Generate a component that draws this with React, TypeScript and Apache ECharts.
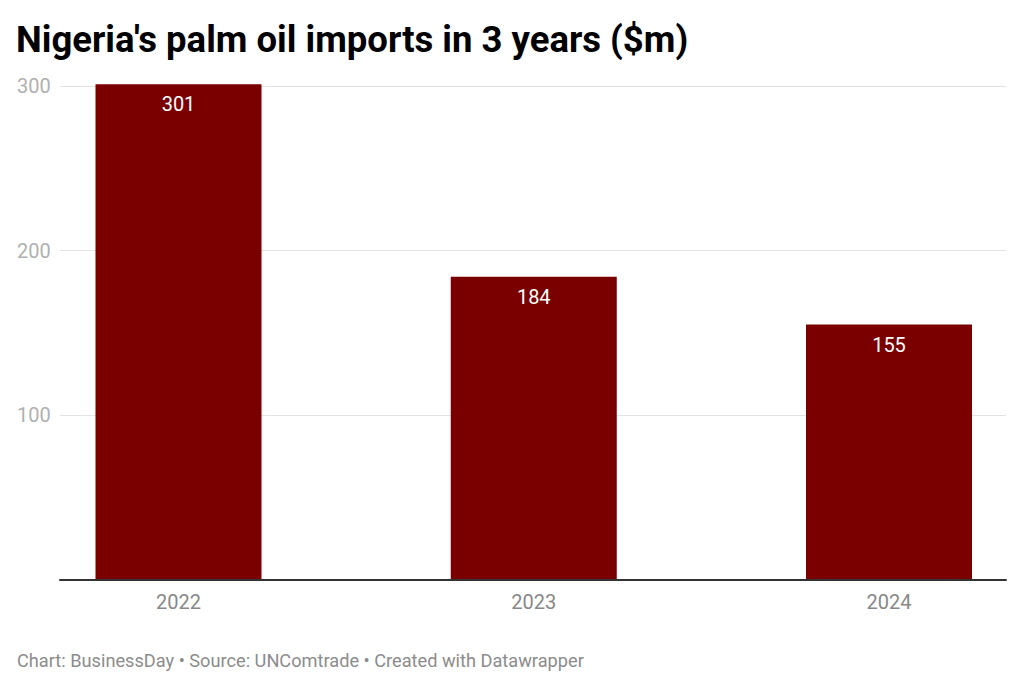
import React, { useEffect, useRef } from "react";
import * as echarts from "echarts";

const years = ["2022", "2023", "2024"];
const imports = [301, 184, 155];
const yTicks = [0, 100, 200, 300];

const TITLE = "Nigeria's palm oil imports in 3 years ($m)";
const FOOTER = "Chart: BusinessDay • Source: UNComtrade • Created with Datawrapper";

export default function App() {
  const ref = useRef<HTMLDivElement>(null);

  useEffect(() => {
    if (!ref.current) return;
    const chart = echarts.init(ref.current, undefined, { renderer: "svg" });
    const font = "Roboto, 'Noto Sans', sans-serif";
    const top = 86;
    const bottom = 689 - 579.5;
    const yMax = yTicks[yTicks.length - 1];

    chart.setOption({
      animation: false,
      backgroundColor: "#ffffff",
      textStyle: { fontFamily: font },
      title: {
        text: TITLE,
        left: 16,
        top: 21,
        padding: 0,
        textStyle: { fontFamily: font, fontSize: 36.5, fontWeight: 700, color: "#000000" },
      },
      graphic: [
        {
          type: "text",
          left: 17,
          top: 651,
          style: { text: FOOTER, fontFamily: font, fontSize: 18.2, fill: "#8c8c8c" },
        },
      ],
      grid: [
        { left: 60, right: 18, top, bottom },
        { left: 178.5, right: 135, top, bottom },
      ],
      xAxis: [
        {
          gridIndex: 0,
          type: "value",
          min: 0,
          max: 1,
          axisLine: { show: true, onZero: false, lineStyle: { color: "#333333", width: 2 } },
          axisTick: { show: false },
          axisLabel: { show: false },
          splitLine: { show: false },
          z: 10,
        },
        {
          gridIndex: 1,
          type: "category",
          data: years,
          boundaryGap: false,
          axisLine: { show: false },
          axisTick: { show: false },
          axisLabel: { color: "#888888", fontSize: 20, margin: 12, fontFamily: font },
          splitLine: { show: false },
        },
      ],
      yAxis: [
        {
          gridIndex: 0,
          type: "value",
          min: 0,
          max: yMax,
          interval: 100,
          axisLine: { show: false },
          axisTick: { show: false },
          axisLabel: {
            color: "#b0b0b0",
            fontSize: 20,
            fontFamily: font,
            align: "left",
            margin: 43,
            formatter: (v: number) => (v === 0 ? "" : String(v)),
          },
          splitLine: { show: true, lineStyle: { color: "#e3e3e3", width: 1 } },
        },
        {
          gridIndex: 1,
          type: "value",
          min: 0,
          max: yMax,
          show: false,
        },
      ],
      series: [
        {
          type: "bar",
          xAxisIndex: 1,
          yAxisIndex: 1,
          data: imports,
          barWidth: 166,
          clip: false,
          itemStyle: { color: "#7a0000" },
          label: {
            show: true,
            position: "insideTop",
            distance: 10,
            color: "#ffffff",
            fontSize: 20,
            fontFamily: font,
          },
        },
      ],
    });

    return () => chart.dispose();
  }, []);

  return (
    <div
      ref={ref}
      style={{ position: "fixed", left: 0, top: 0, width: 1024, height: 689 }}
    />
  );
}
